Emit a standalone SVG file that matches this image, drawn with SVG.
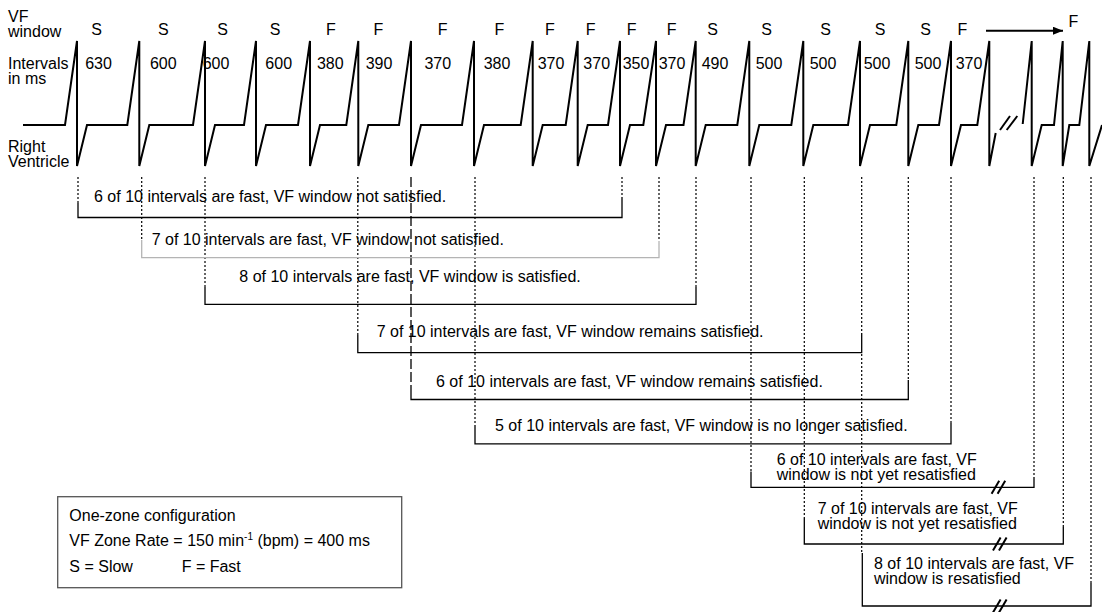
<svg xmlns="http://www.w3.org/2000/svg" width="1102" height="612" viewBox="0 0 1102 612">
<style>
text{font-family:"Liberation Sans",Arial,Helvetica,sans-serif;font-size:16px;fill:#000}
.mid{text-anchor:middle}
.ecg{fill:none;stroke:#000;stroke-width:2;stroke-linejoin:miter}
.br{fill:none;stroke:#000;stroke-width:1.3}
.gray{stroke:#b4b4b4}
.dot{fill:none;stroke:#000;stroke-width:1.2;stroke-dasharray:2 2}
.dash{fill:none;stroke:#000;stroke-width:1.3;stroke-dasharray:10 3}
.slash{stroke:#000;stroke-width:2}
.box{fill:#fff;stroke:#555;stroke-width:1.3}
</style>
<defs>
<marker id="ah" viewBox="0 0 10 8" refX="10" refY="4" markerWidth="7.5" markerHeight="4" markerUnits="strokeWidth" orient="auto">
<path d="M0,0 L10,4 L0,8 z" fill="#000"/>
</marker>
<g id="brk"><line class="slash" x1="-7" y1="6.5" x2="0.6" y2="-6.5"/><line class="slash" x1="-1" y1="6.5" x2="6.6" y2="-6.5"/></g>
</defs>
<rect width="1102" height="612" fill="#fff"/>

<g id="row-labels">
<text x="8" y="22">VF</text>
<text x="8" y="37">window</text>
<text x="8" y="68.5">Intervals</text>
<text x="8" y="83.5">in ms</text>
<text x="8" y="151.5">Right</text>
<text x="8" y="167">Ventricle</text>
</g>

<g id="vf-window-labels">
<text class="mid" x="96.7" y="35">S</text>
<text class="mid" x="163.3" y="35">S</text>
<text class="mid" x="222.7" y="35">S</text>
<text class="mid" x="275" y="35">S</text>
<text class="mid" x="331" y="35">F</text>
<text class="mid" x="378.3" y="35">F</text>
<text class="mid" x="442.7" y="35">F</text>
<text class="mid" x="499.3" y="35">F</text>
<text class="mid" x="550" y="35">F</text>
<text class="mid" x="590.7" y="35">F</text>
<text class="mid" x="631.7" y="35">F</text>
<text class="mid" x="671.7" y="35">F</text>
<text class="mid" x="712.7" y="35">S</text>
<text class="mid" x="766.7" y="35">S</text>
<text class="mid" x="825.7" y="35">S</text>
<text class="mid" x="880" y="35">S</text>
<text class="mid" x="925.7" y="35">S</text>
<text class="mid" x="962.3" y="35">F</text>
<text class="mid" x="1073.3" y="26.5">F</text>
</g>

<g id="interval-labels">
<text class="mid" x="98.5" y="69">630</text>
<text class="mid" x="163.3" y="69">600</text>
<text class="mid" x="216" y="69">600</text>
<text class="mid" x="278.7" y="69">600</text>
<text class="mid" x="330.3" y="69">380</text>
<text class="mid" x="379" y="69">390</text>
<text class="mid" x="437.8" y="69">370</text>
<text class="mid" x="497" y="69">380</text>
<text class="mid" x="551" y="69">370</text>
<text class="mid" x="596.7" y="69">370</text>
<text class="mid" x="636" y="69">350</text>
<text class="mid" x="672" y="69">370</text>
<text class="mid" x="715" y="69">490</text>
<text class="mid" x="769" y="69">500</text>
<text class="mid" x="823" y="69">500</text>
<text class="mid" x="877" y="69">500</text>
<text class="mid" x="928" y="69">500</text>
<text class="mid" x="969" y="69">370</text>
</g>

<g id="ecg">
<path class="ecg" d="M23,125 L65,125 L77,41 L77,166 L87,125 L127.3,125 L139.3,41 L139.3,166 L149.3,125 L193,125 L205,41 L205,166 L215,125 L244,125 L256,41 L256,166 L266,125 L298,125 L310,41 L310,166 L320,125 L346.3,125 L358.3,41 L358.3,166 L368.3,125 L399,125 L411,41 L411,166 L421,125 L462,125 L474,41 L474,166 L484,125 L520.7,125 L532.7,41 L532.7,166 L542.7,125 L565.7,125 L577.7,41 L577.7,166 L587.7,125 L608,125 L620,41 L620,166 L630,125 L643.3,125 L656,41 L656,166 L666,125 L683.5,125 L695.7,41 L695.7,166 L705.7,125 L737.3,125 L749.3,41 L749.3,166 L759.3,125 L791.3,125 L803.3,41 L803.3,166 L813.3,125 L848,125 L860,41 L860,166 L870,125 L896.3,125 L908.3,41 L908.3,166 L918.3,125 L939,125 L951,41 L951,166 L961,125 L977.3,125 L989.3,41 L989.3,166 L995.7,133"/>
<path class="ecg" d="M1022.7,124 L1031.7,41 L1031.7,166 L1041.7,125 L1054,125 L1062.7,41 L1062.7,166 L1069.3,125 L1079.3,125 L1089.3,41 L1089.3,166 L1102,125"/>
<line class="slash" x1="1000" y1="130" x2="1010" y2="116"/>
<line class="slash" x1="1006.7" y1="130" x2="1017.3" y2="116"/>
</g>

<g id="connectors">
<line x1="986" y1="30.7" x2="1063" y2="30.7" stroke="#000" stroke-width="2" marker-end="url(#ah)"/>
<path class="dot" d="M78,177V203 M622,177V197 M141.7,177V240 M659,177V241 M205,177V287 M696,177V287 M357.8,177V335 M861.7,177V333 M861.7,354V553 M908.3,177V380 M475,177V425 M951,177V423 M751,177V471.5 M1034,177V477 M804.3,177V518 M1063.3,177V527 M1091,177V583"/>
<path class="dash" d="M411,177V386"/>
</g>

<g id="bracket-1">
<path class="br" d="M78,203V217.5H622V197"/>
<text x="94" y="201.5">6 of 10 intervals are fast, VF window not satisfied.</text>
</g>
<g id="bracket-2">
<path class="br gray" d="M141.7,240V257.7H659V241"/>
<text x="151.7" y="245">7 of 10 intervals are fast, VF window not satisfied.</text>
</g>
<g id="bracket-3">
<path class="br" d="M205,287V304.3H696V287"/>
<text x="239.3" y="282">8 of 10 intervals are fast, VF window is satisfied.</text>
</g>
<g id="bracket-4">
<path class="br" d="M357.8,335V352.7H861.7V333"/>
<text x="376.7" y="336.5">7 of 10 intervals are fast, VF window remains satisfied.</text>
</g>
<g id="bracket-5">
<path class="br" d="M411,386V399.5H908.3V380"/>
<text x="436" y="386.5">6 of 10 intervals are fast, VF window remains satisfied.</text>
</g>
<g id="bracket-6">
<path class="br" d="M475,425V443.8H951V423"/>
<text x="495" y="430.5">5 of 10 intervals are fast, VF window is no longer satisfied.</text>
</g>
<g id="bracket-7">
<path class="br" d="M751,471.5V487.3H1034V477"/>
<use href="#brk" x="998.6" y="487.3"/>
<text x="776.7" y="464.5">6 of 10 intervals are fast, VF</text>
<text x="776.7" y="479.5">window is not yet resatisfied</text>
</g>
<g id="bracket-8">
<path class="br" d="M804.3,518V544H1063.3V527"/>
<use href="#brk" x="1000" y="544"/>
<text x="817.7" y="513.5">7 of 10 intervals are fast, VF</text>
<text x="817.7" y="528.8">window is not yet resatisfied</text>
</g>
<g id="bracket-9">
<path class="br" d="M862.3,553V606H1091V583"/>
<use href="#brk" x="1000" y="606"/>
<text x="874" y="568.5">8 of 10 intervals are fast, VF</text>
<text x="874" y="583.5">window is resatisfied</text>
</g>

<g id="legend">
<rect class="box" x="57.7" y="496.7" width="344" height="91"/>
<text x="69.3" y="520.5">One-zone configuration</text>
<text x="69.3" y="545.5">VF Zone Rate = 150 min<tspan font-size="10" dy="-5.5">-1</tspan><tspan dy="5.5"> (bpm) = 400 ms</tspan></text>
<text x="69.3" y="571.5">S = Slow</text>
<text x="181.7" y="571.5">F = Fast</text>
</g>
</svg>
